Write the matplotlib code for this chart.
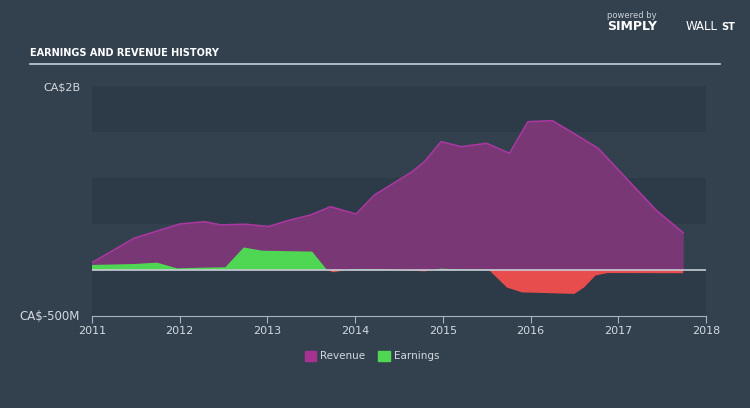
import numpy as np
import matplotlib
matplotlib.use('Agg')
import matplotlib.pyplot as plt
from matplotlib.patches import Patch

# Revenue (CA$ millions)
rev_t = [2011.0, 2011.48, 2012.0, 2012.28, 2012.47, 2012.75, 2013.01, 2013.23,
         2013.49, 2013.72, 2014.01, 2014.22, 2014.65, 2014.79, 2014.98, 2015.21,
         2015.50, 2015.76, 2015.97, 2016.25, 2016.49, 2016.77, 2017.43, 2017.74]
rev_v = [80, 345, 500, 525, 490, 497, 471, 536,
         598, 688, 608, 815, 1068, 1177, 1395, 1340,
         1377, 1268, 1612, 1623, 1486, 1323, 652, 405]

# Earnings (CA$ millions)
earn_t = [2011.0, 2011.48, 2011.74, 2011.97, 2012.23, 2012.52, 2012.73, 2012.94,
          2013.51, 2013.68, 2013.75, 2013.96, 2014.36, 2014.79, 2014.98, 2015.21,
          2015.52, 2015.73, 2015.90, 2016.50, 2016.61, 2016.74, 2016.88, 2017.74]
earn_v = [55, 65, 80, 18, 25, 30, 245, 210,
          200, 0, -25, 10, 7, -15, 15, 5,
          5, -190, -243, -260, -190, -60, -33, -35]

bg = '#33414f'
band = '#2d3a48'
txt = '#d3d9e0'

fig = plt.figure(figsize=(7.5, 4.08), dpi=100, facecolor=bg)
ax = fig.add_axes([92/750, 1-316/408, 614/750, 230/408])
ax.set_facecolor(bg)

# alternating bands
for lo in (-500, 500, 1500):
    ax.axhspan(lo, lo + 500, color=band, zorder=0, lw=0)

rt = np.array(rev_t)
rv = np.array(rev_v)
ax.fill_between(rt, 0, rv, color='#7a3776', zorder=2, lw=0)
ax.plot(rt, rv, color='#a8389e', lw=1.2, zorder=3)

et = np.array(earn_t)
ev = np.array(earn_v)
ax.fill_between(et, 0, ev, where=ev >= 0, interpolate=True, color='#4fd653', zorder=4, lw=0)
ax.fill_between(et, 0, ev, where=ev <= 0, interpolate=True, color='#e84d4d', zorder=4, lw=0)
ax.axhline(0, color='#c5ccd4', lw=1.2, zorder=5)

ax.set_xlim(2011, 2018)
ax.set_ylim(-500, 2000)
ax.set_xticks(range(2011, 2019))
ax.set_xticklabels([str(y) for y in range(2011, 2019)])
ax.set_yticks([])
for s in ('top', 'right', 'left'):
    ax.spines[s].set_visible(False)
ax.spines['bottom'].set_color('#aab3bd')
ax.tick_params(axis='x', colors='#aab3bd', labelcolor=txt, labelsize=8, length=5, pad=2)

fig.text(80/750, 1-87/408, 'CA$2B', color=txt, fontsize=8, ha='right', va='center')
fig.text(80/750, 1-316/408, 'CA$-500M', color=txt, fontsize=8.5, ha='right', va='center')

# title and rule
fig.text(30/750, 1-53/408, 'EARNINGS AND REVENUE HISTORY', color='white', fontsize=7,
         fontweight='bold', family=['Liberation Sans Narrow', 'DejaVu Sans'],
         ha='left', va='center')
fig.add_artist(plt.Line2D([30/750, 720/750], [1-64/408, 1-64/408], color='#c8d0d8', lw=1.2))

# logo text
fig.text(607/750, 1-15/408, 'powered by', color='#c8d0d8', fontsize=6, ha='left', va='center')
fig.text(607/750, 1-27/408, 'SIMPLY', color='white', fontsize=9, fontweight='bold', ha='left', va='center')
fig.text(686/750, 1-27/408, 'WALL', color='white', fontsize=8.5, ha='left', va='center')
fig.text(721/750, 1-27/408, 'ST', color='white', fontsize=7, fontweight='bold', ha='left', va='center')

handles = [Patch(color='#a83292', label='Revenue'), Patch(color='#4fd653', label='Earnings')]
leg = fig.legend(handles=handles, loc='center', bbox_to_anchor=(372/750, 1-356/408), ncol=2,
                 frameon=False, fontsize=7.5, handlelength=1.1, handleheight=1.1,
                 columnspacing=1.2, handletextpad=0.4)
for t in leg.get_texts():
    t.set_color(txt)

fig.savefig('out.png', dpi=100, facecolor=bg)
